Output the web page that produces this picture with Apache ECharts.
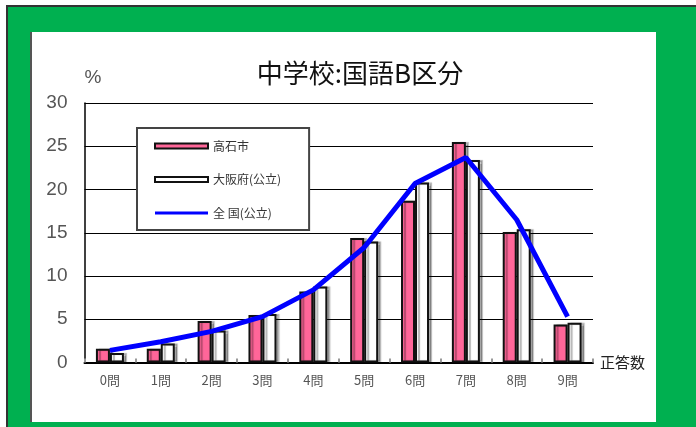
<!DOCTYPE html>
<html>
<head>
<meta charset="utf-8">
<script src="https://cdn.jsdelivr.net/npm/echarts@6/dist/echarts.min.js"></script>
<style>
  html, body { margin: 0; padding: 0; background: #ffffff; }
  #chart { width: 696px; height: 427px; }
</style>
</head>
<body>
<div id="chart"></div>
<script>
// Correct-answer count categories
const categories = ['0問', '1問', '2問', '3問', '4問', '5問', '6問', '7問', '8問', '9問'];
// Share of students (%) for each count
const takaishi = [1.6, 1.6, 4.8, 5.5, 8.2, 14.4, 18.7, 25.5, 15.1, 4.4];
const osakaPublic = [1.1, 2.2, 3.7, 5.6, 8.8, 14.0, 20.8, 23.4, 15.4, 4.6];
const nationalPublic = [1.4, 2.4, 3.6, 5.3, 8.4, 13.3, 20.7, 23.7, 16.5, 5.3];
const seriesNames = ['高石市', '大阪府(公立)', '全 国(公立)'];
const yTicks = { min: 0, max: 30, interval: 5 };

const chart = echarts.init(document.getElementById('chart'), null, { renderer: 'canvas' });

const barShadow = {
  shadowColor: 'rgba(0,0,0,0.3)',
  shadowBlur: 1,
  shadowOffsetX: 3,
  shadowOffsetY: 0
};

chart.setOption({
  animation: false,
  backgroundColor: '#ffffff',
  graphic: [
    {
      type: 'rect', z: -20,
      shape: { x: 7, y: 6, width: 700, height: 430 },
      style: { fill: '#00B050', stroke: '#333333', lineWidth: 2 }
    },
    {
      type: 'rect', z: -19,
      shape: { x: 31, y: 32, width: 625, height: 390 },
      style: { fill: '#ffffff' }
    },
    {
      type: 'line', z: -18,
      shape: { x1: 31, y1: 32, x2: 31, y2: 422 },
      style: { stroke: '#555555', lineWidth: 2 }
    }
  ],
  title: {
    text: '中学校:国語B区分',
    left: 355,
    top: 55,
    textAlign: 'center',
    textStyle: {
      fontFamily: '"Noto Sans CJK JP", sans-serif',
      fontSize: 26,
      fontWeight: 'normal',
      color: '#111111'
    }
  },
  legend: {
    orient: 'vertical',
    left: 137,
    top: 128,
    backgroundColor: '#ffffff',
    borderColor: '#444444',
    borderWidth: 2,
    borderRadius: 0,
    padding: [11, 28, 10, 17],
    itemWidth: 53,
    itemHeight: 5,
    itemGap: 19.5,
    textStyle: {
      fontFamily: '"Noto Sans CJK JP", sans-serif',
      fontSize: 12,
      lineHeight: 14,
      color: '#333333'
    },
    data: [
      { name: seriesNames[0], icon: 'rect' },
      { name: seriesNames[1], icon: 'rect' },
      {
        name: seriesNames[2],
        icon: 'path://M0,0H53V3H0Z',
        itemStyle: { color: '#0000FF', borderWidth: 0 }
      }
    ]
  },
  grid: {
    left: 84.5,
    right: 103,
    top: 103,
    bottom: 64.5,
    containLabel: false
  },
  xAxis: {
    type: 'category',
    data: categories,
    name: '正答数',
    nameLocation: 'end',
    nameGap: 7,
    nameTextStyle: {
      fontFamily: '"Noto Sans CJK JP", sans-serif',
      fontSize: 15,
      color: '#222222',
      align: 'left',
      verticalAlign: 'middle',
      padding: [32, 0, 0, 0]
    },
    axisLine: { lineStyle: { color: '#000000', width: 2 } },
    axisTick: { show: true, inside: true, length: 4, lineStyle: { color: '#999999', width: 2 } },
    axisLabel: {
      margin: 11,
      fontFamily: '"Noto Sans CJK JP", sans-serif',
      fontSize: 13,
      color: '#555555'
    },
    splitLine: { show: false }
  },
  yAxis: {
    type: 'value',
    min: yTicks.min,
    max: yTicks.max,
    interval: yTicks.interval,
    name: '%',
    nameLocation: 'end',
    nameGap: 16,
    nameTextStyle: {
      fontFamily: '"Liberation Sans", sans-serif',
      fontSize: 19,
      color: '#555555',
      align: 'left',
      verticalAlign: 'bottom'
    },
    axisLine: { show: true, lineStyle: { color: '#000000', width: 1.5 } },
    axisTick: { show: false },
    axisLabel: {
      margin: 17,
      fontFamily: '"Liberation Sans", sans-serif',
      fontSize: 19,
      color: '#555555'
    },
    splitLine: { show: true, lineStyle: { color: '#000000', width: 1 } }
  },
  series: [
    {
      name: seriesNames[0],
      type: 'bar',
      data: takaishi,
      barWidth: 14,
      barGap: '0%',
      itemStyle: Object.assign({ color: '#FF6699', borderColor: '#111111', borderWidth: 2 }, barShadow)
    },
    {
      name: seriesNames[1],
      type: 'bar',
      data: osakaPublic,
      barWidth: 14,
      barGap: '0%',
      itemStyle: Object.assign({ color: '#ffffff', borderColor: '#111111', borderWidth: 2 }, barShadow)
    },
    {
      name: seriesNames[2],
      type: 'line',
      data: nationalPublic,
      symbol: 'none',
      smooth: false,
      z: 3,
      lineStyle: { color: '#0000FF', width: 5 },
      itemStyle: { color: '#0000FF' }
    }
  ]
});
</script>
</body>
</html>
